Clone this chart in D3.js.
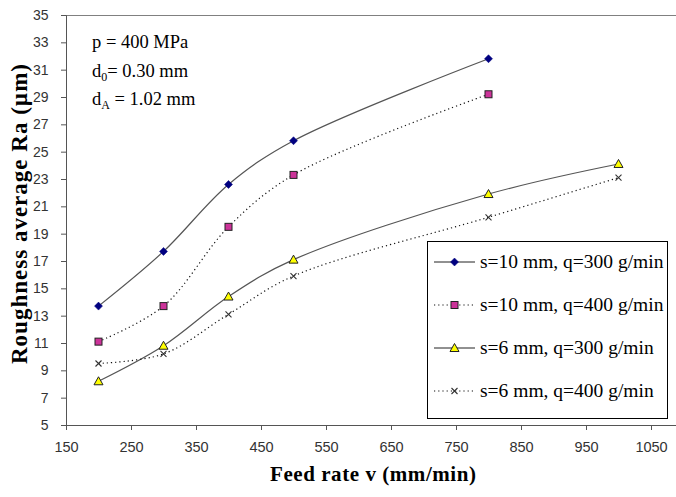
<!DOCTYPE html>
<html><head><meta charset="utf-8">
<script src="https://cdn.jsdelivr.net/npm/d3@7"></script>
<style>body{margin:0;background:#fff}svg{display:block}</style>
</head><body>
<svg id="c" width="676" height="497"></svg>
<script>
const feedRates = [200, 300, 400, 500, 800, 1000];
const s10q300 = [13.7, 17.7, 22.6, 25.8, 31.8];
const s10q400 = [11.1, 13.7, 19.5, 23.3, 29.2];
const s6q300 = [8.2, 10.8, 14.4, 17.1, 21.9, 24.1];
const s6q400 = [9.5, 10.2, 13.1, 15.9, 20.2, 23.1];
const seriesNames = ["s=10 mm, q=300 g/min", "s=10 mm, q=400 g/min", "s=6 mm, q=300 g/min", "s=6 mm, q=400 g/min"];
const xTicks = [150, 250, 350, 450, 550, 650, 750, 850, 950, 1050];
const yTicks = [5, 7, 9, 11, 13, 15, 17, 19, 21, 23, 25, 27, 29, 31, 33, 35];

const svg = d3.select("#c");
const x = d3.scaleLinear().domain([150, 1100]).range([66, 66 + 950 * 0.65]);
const y = d3.scaleLinear().domain([5, 35]).range([425, 15]);
const serif = "Liberation Serif, Times New Roman, serif";
const sans = "Liberation Sans, Arial, sans-serif";

const series = [
  {name: seriesNames[0], vals: s10q300, dash: null, marker: "diamond"},
  {name: seriesNames[1], vals: s10q400, dash: "1.2,3", marker: "square"},
  {name: seriesNames[2], vals: s6q300, dash: null, marker: "triangle"},
  {name: seriesNames[3], vals: s6q400, dash: "1.2,3", marker: "cross"}
];

// frame top line
svg.append("line").attr("x1", 66).attr("x2", 676).attr("y1", 15.5).attr("y2", 15.5)
  .attr("stroke", "#808080").attr("stroke-width", 1);

// axes
const yAxis = d3.axisLeft(y).tickValues(yTicks).tickSize(5).tickPadding(12.5).tickFormat(d3.format("d"));
const gy = svg.append("g").attr("transform", "translate(66,0)").call(yAxis);
const xAxis = d3.axisBottom(x).tickValues(xTicks).tickSize(5).tickPadding(12).tickFormat(d3.format("d"));
const gx = svg.append("g").attr("transform", "translate(0,425)").call(xAxis);
[gx, gy].forEach(g => {
  g.select(".domain").attr("stroke", "#555");
  g.selectAll(".tick line").attr("stroke", "#555");
  g.selectAll("text").attr("font-family", sans).attr("fill", "#333");
});
gx.selectAll("text").attr("font-size", 14.5);
gy.selectAll("text").attr("font-size", 14);

const line = d3.line().x(d => x(d[0])).y(d => y(d[1])).curve(d3.curveCatmullRom.alpha(0.5));

function drawMarker(g, type, cx, cy) {
  if (type === "diamond") {
    g.append("path").attr("d", `M${cx},${cy-4}L${cx+4},${cy}L${cx},${cy+4}L${cx-4},${cy}Z`)
      .attr("fill", "#000080").attr("stroke", "#000080").attr("stroke-width", 0.5);
  } else if (type === "square") {
    g.append("rect").attr("x", cx - 3.5).attr("y", cy - 3.5).attr("width", 7).attr("height", 7)
      .attr("fill", "#cc3399").attr("stroke", "#222").attr("stroke-width", 1);
  } else if (type === "triangle") {
    g.append("path").attr("d", `M${cx},${cy-4.5}L${cx+4.5},${cy+3.5}L${cx-4.5},${cy+3.5}Z`)
      .attr("fill", "#ffff00").attr("stroke", "#222").attr("stroke-width", 1);
  } else {
    g.append("path").attr("d", `M${cx-3},${cy-3}L${cx+3},${cy+3}M${cx-3},${cy+3}L${cx+3},${cy-3}`)
      .attr("stroke", "#333").attr("stroke-width", 1.1).attr("fill", "none");
  }
}

series.forEach(s => {
  const pts = s.vals.map((v, i) => [feedRates[i], v]);
  svg.append("path").attr("d", line(pts)).attr("fill", "none")
    .attr("stroke", s.dash ? "#111" : "#555").attr("stroke-width", s.dash ? 1.2 : 1.2)
    .attr("stroke-dasharray", s.dash);
  const g = svg.append("g");
  pts.forEach(p => drawMarker(g, s.marker, x(p[0]), y(p[1])));
});

// legend
const lg = svg.append("g");
lg.append("rect").attr("x", 427.5).attr("y", 241.5).attr("width", 240).attr("height", 177)
  .attr("fill", "#fff").attr("stroke", "#000").attr("stroke-width", 1);
const legendY = [262, 305, 348, 391];
series.forEach((s, i) => {
  const ly = legendY[i];
  lg.append("line").attr("x1", 434).attr("x2", 475).attr("y1", ly).attr("y2", ly)
    .attr("stroke", s.dash ? "#111" : "#222").attr("stroke-width", s.dash ? 1.2 : 1)
    .attr("stroke-dasharray", s.dash);
  drawMarker(lg, s.marker, 454.5, ly);
  lg.append("text").attr("x", 480).attr("y", ly + 6).text(s.name)
    .attr("font-family", serif).attr("font-size", 19.5).attr("fill", "#000");
});

// annotation
const ann = svg.append("g").attr("font-family", serif).attr("font-size", 18.5).attr("fill", "#000");
ann.append("text").attr("x", 92).attr("y", 48).text("p = 400 MPa");
const t2 = ann.append("text").attr("x", 92).attr("y", 77);
t2.append("tspan").text("d");
t2.append("tspan").attr("font-size", 12).attr("dy", 4).text("0");
t2.append("tspan").attr("dy", -4).text("= 0.30 mm");
const t3 = ann.append("text").attr("x", 92).attr("y", 105);
t3.append("tspan").text("d");
t3.append("tspan").attr("font-size", 12).attr("dy", 4).text("A");
t3.append("tspan").attr("dy", -4).text(" = 1.02 mm");

// axis titles
svg.append("text").attr("x", 270).attr("y", 481)
  .attr("font-family", serif).attr("font-weight", "bold")
  .attr("font-size", 21).attr("textLength", 206).attr("lengthAdjust", "spacing")
  .text("Feed rate v (mm/min)");
svg.append("text").attr("transform", "translate(27,364) rotate(-90)")
  .attr("font-family", serif).attr("font-weight", "bold")
  .attr("font-size", 23).attr("textLength", 300).attr("lengthAdjust", "spacing")
  .text("Roughness average Ra (µm)");
</script>
</body></html>
